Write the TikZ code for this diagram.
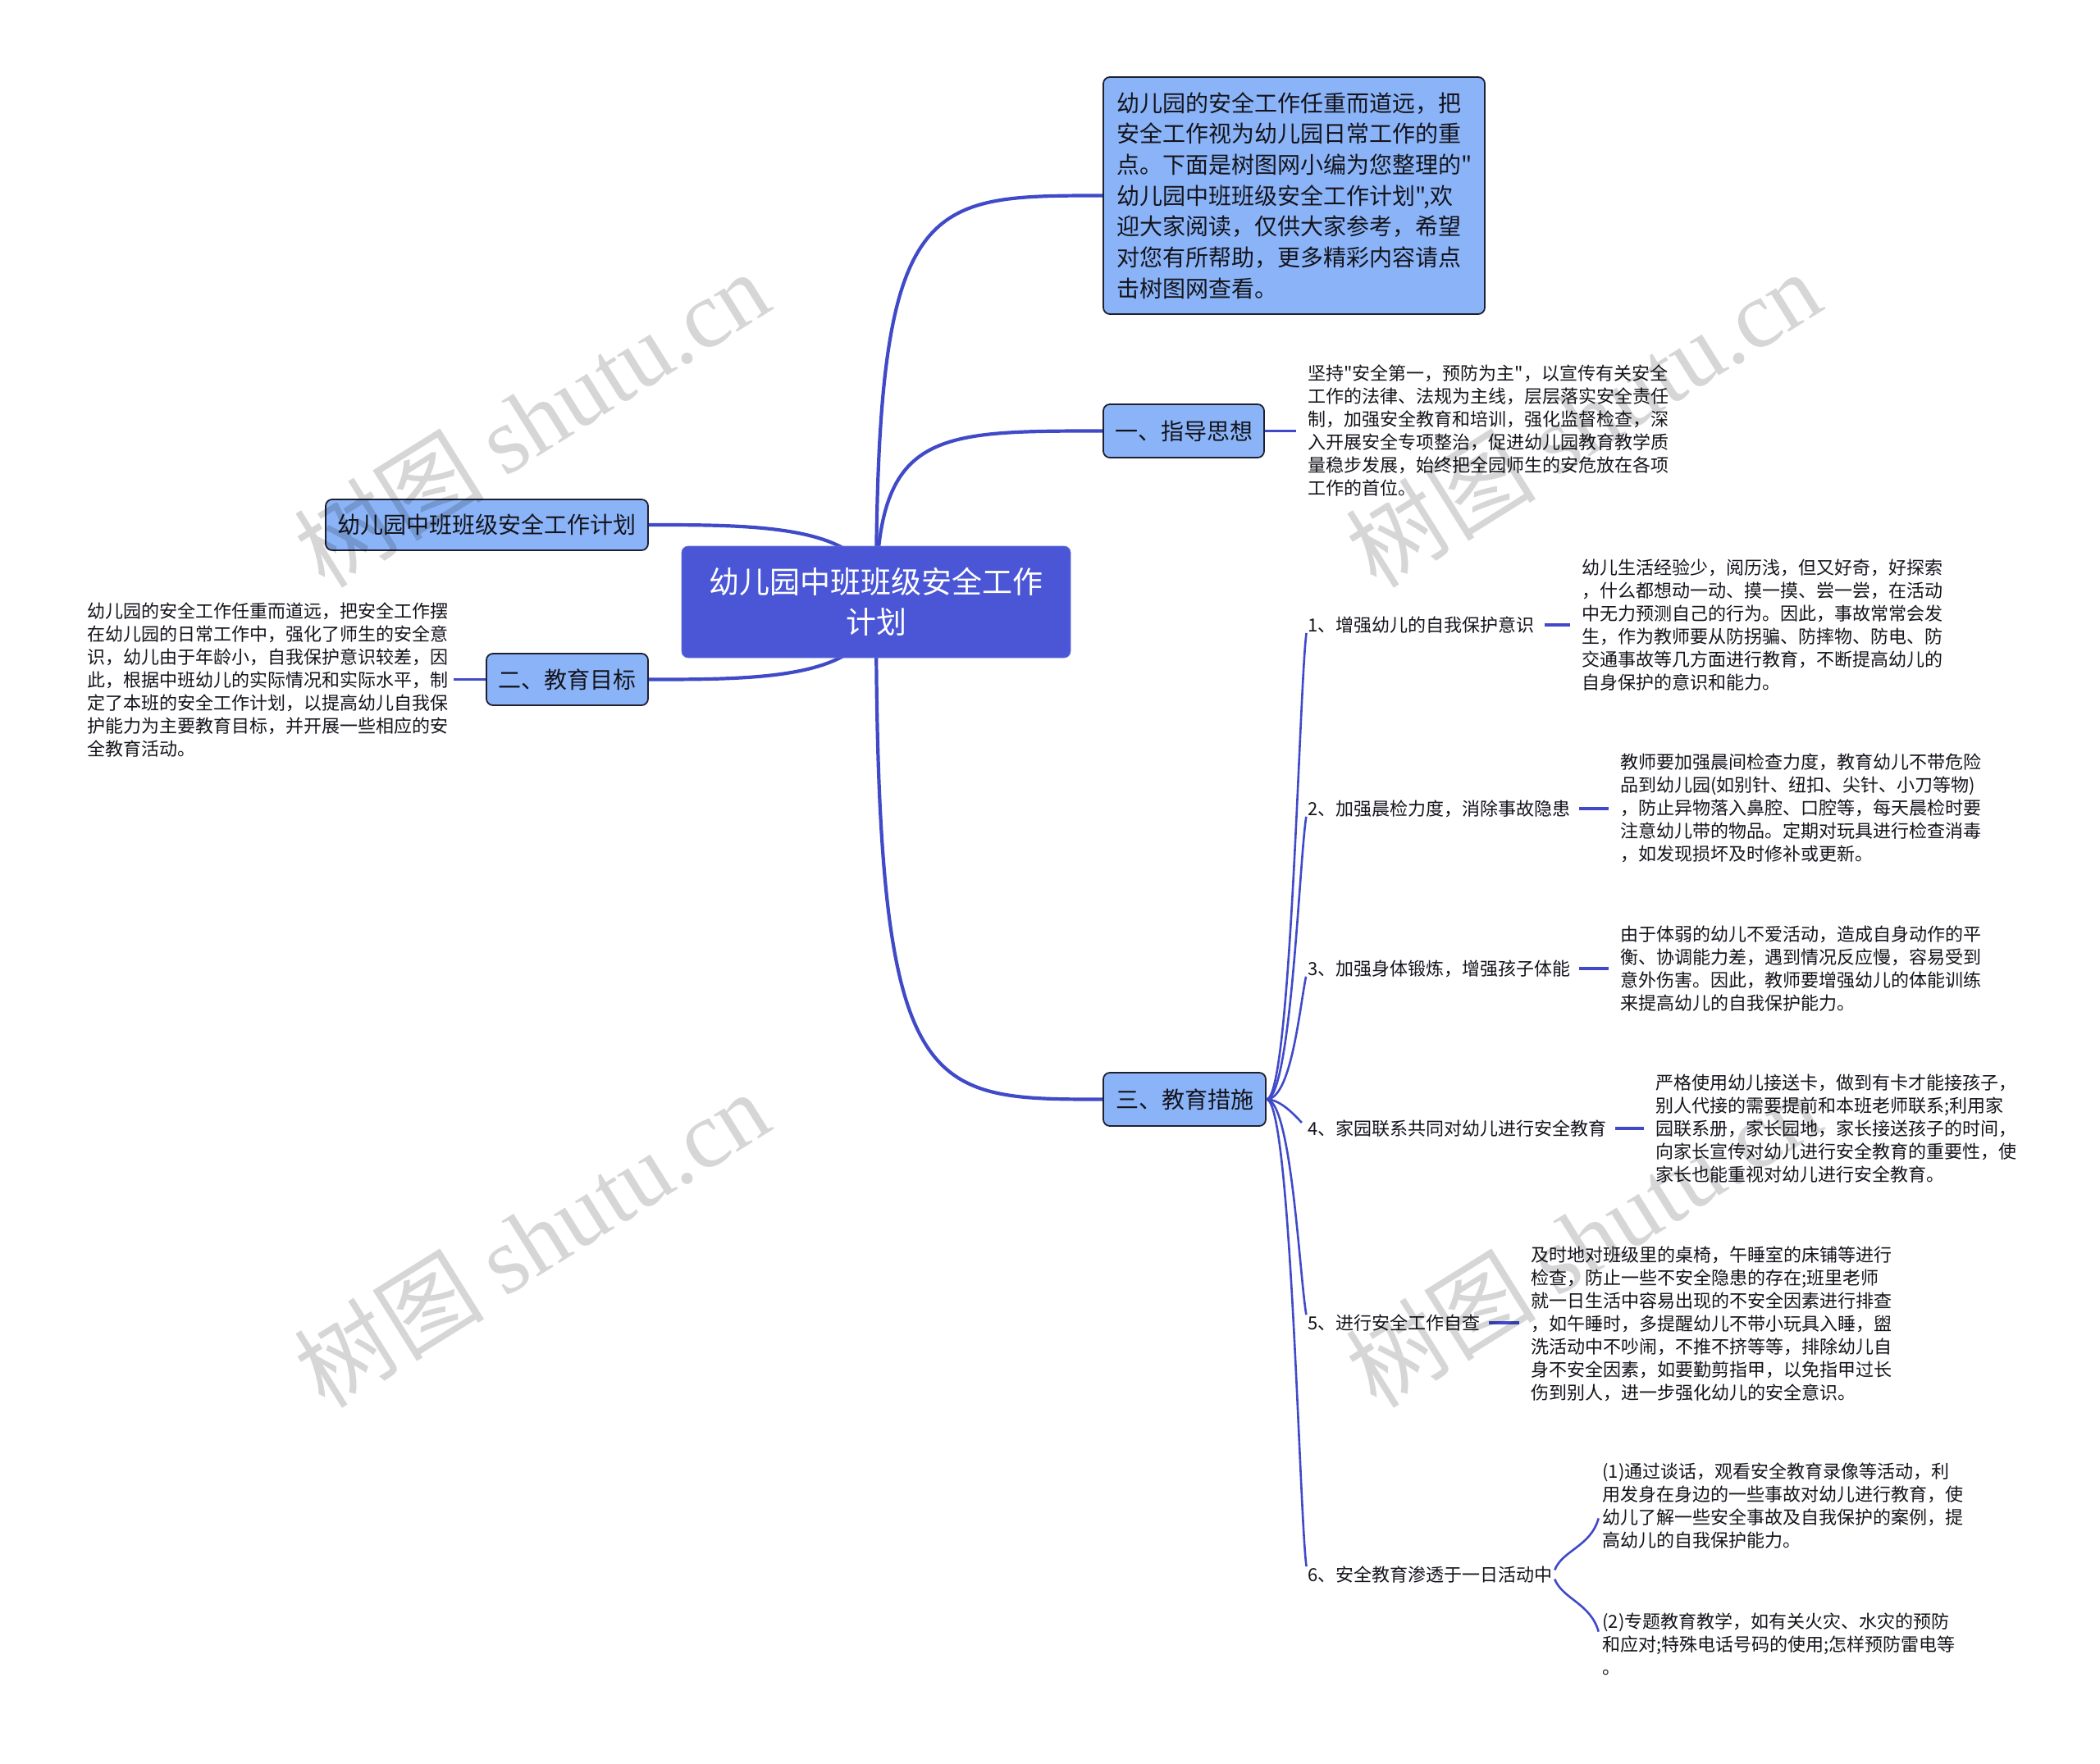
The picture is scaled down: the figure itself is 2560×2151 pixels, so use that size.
\documentclass[tikz,border=0pt]{standalone}
\usepackage{fontspec}
\setmainfont{Noto Sans CJK SC}
\newfontfamily\cjkfont{Noto Sans CJK SC}
\newfontfamily\wmfont{Liberation Serif}
\usetikzlibrary{calc}
\pgfdeclarelayer{background}
\pgfdeclarelayer{foreground}
\pgfsetlayers{background,main,foreground}
\definecolor{linec}{RGB}{64,74,200}
\definecolor{rootc}{RGB}{74,86,214}
\definecolor{nodec}{RGB}{139,180,248}
\definecolor{edgec}{RGB}{30,32,48}
\definecolor{txtc}{RGB}{20,20,28}
\begin{document}
\begin{tikzpicture}[x=0.5pt,y=-0.5pt,
 rootbox/.style={fill=rootc, draw=rootc!85!white, rounded corners=4pt, text=white, align=center,
   font=\cjkfont\fontsize{18.5pt}{24.5pt}\selectfont, inner sep=0pt, minimum width=237pt, minimum height=68pt},
 topicbox/.style={fill=nodec, draw=edgec, line width=0.9pt, rounded corners=4pt, text=txtc,
   font=\cjkfont\fontsize{14pt}{18.85pt}\selectfont, inner sep=0pt},
 leaf/.style={inner sep=0pt, anchor=west, align=left, text=txtc, font=\cjkfont\fontsize{11pt}{14pt}\selectfont},
 mainline/.style={draw=linec, line width=2.1pt},
 subline/.style={draw=linec, line width=1.3pt},
 tieline/.style={draw=linec, line width=1.8pt},
 wm/.style={rotate=32, text=black, text opacity=0.16, inner sep=0pt, font=\fontsize{58pt}{60pt}\selectfont}
]
\useasboundingbox (0,0) rectangle (2560,2151);
\begin{pgfonlayer}{background}
\fill[white] (0,0) rectangle (2560,2151);
\end{pgfonlayer}

% root
\node[rootbox] (c) at (1068,734) {幼儿园中班班级安全工作\\计划};

% top description box
\node[topicbox, minimum width=232.5pt, minimum height=144.5pt, align=left, text width=216pt] (top) at (1577.5,238.5)
 {幼儿园的安全工作任重而道远，把\\安全工作视为幼儿园日常工作的重\\点。下面是树图网小编为您整理的"\\幼儿园中班班级安全工作计划",欢\\迎大家阅读，仅供大家参考，希望\\对您有所帮助，更多精彩内容请点\\击树图网查看。};

% main topics
\node[topicbox, minimum width=98pt, minimum height=32.5pt] (g1) at (1443,525.5) {一、指导思想};
\node[topicbox, minimum width=196.5pt, minimum height=31pt] (l1) at (593.5,640) {幼儿园中班班级安全工作计划};
\node[topicbox, minimum width=98.5pt, minimum height=31.5pt] (g2) at (691.5,828.5) {二、教育目标};
\node[topicbox, minimum width=99pt, minimum height=32.5pt] (g3) at (1444,1340.5) {三、教育措施};

% leaf texts
\node[leaf] (t1) at (1594,525) {坚持"安全第一，预防为主"，以宣传有关安全\\工作的法律、法规为主线，层层落实安全责任\\制，加强安全教育和培训，强化监督检查，深\\入开展安全专项整治，促进幼儿园教育教学质\\量稳步发展，始终把全园师生的安危放在各项\\工作的首位。};
\node[leaf] (t2) at (106,829) {幼儿园的安全工作任重而道远，把安全工作摆\\在幼儿园的日常工作中，强化了师生的安全意\\识，幼儿由于年龄小，自我保护意识较差，因\\此，根据中班幼儿的实际情况和实际水平，制\\定了本班的安全工作计划，以提高幼儿自我保\\护能力为主要教育目标，并开展一些相应的安\\全教育活动。};

\node[leaf] (i1) at (1594,762) {1、增强幼儿的自我保护意识};
\node[leaf] (i2) at (1594,986) {2、加强晨检力度，消除事故隐患};
\node[leaf] (i3) at (1594,1181) {3、加强身体锻炼，增强孩子体能};
\node[leaf] (i4) at (1594,1376) {4、家园联系共同对幼儿进行安全教育};
\node[leaf] (i5) at (1594,1613) {5、进行安全工作自查};
\node[leaf] (i6) at (1594,1920) {6、安全教育渗透于一日活动中};

\node[leaf] (d1) at (1928,762) {幼儿生活经验少，阅历浅，但又好奇，好探索\\，什么都想动一动、摸一摸、尝一尝，在活动\\中无力预测自己的行为。因此，事故常常会发\\生，作为教师要从防拐骗、防摔物、防电、防\\交通事故等几方面进行教育，不断提高幼儿的\\自身保护的意识和能力。};
\node[leaf] (d2) at (1975,985) {教师要加强晨间检查力度，教育幼儿不带危险\\品到幼儿园(如别针、纽扣、尖针、小刀等物)\\，防止异物落入鼻腔、口腔等，每天晨检时要\\注意幼儿带的物品。定期对玩具进行检查消毒\\，如发现损坏及时修补或更新。};
\node[leaf] (d3) at (1975,1181) {由于体弱的幼儿不爱活动，造成自身动作的平\\衡、协调能力差，遇到情况反应慢，容易受到\\意外伤害。因此，教师要增强幼儿的体能训练\\来提高幼儿的自我保护能力。};
\node[leaf] (d4) at (2018,1376) {严格使用幼儿接送卡，做到有卡才能接孩子，\\别人代接的需要提前和本班老师联系;利用家\\园联系册，家长园地，家长接送孩子的时间，\\向家长宣传对幼儿进行安全教育的重要性，使\\家长也能重视对幼儿进行安全教育。};
\node[leaf] (d5) at (1866,1614) {及时地对班级里的桌椅，午睡室的床铺等进行\\检查，防止一些不安全隐患的存在;班里老师\\就一日生活中容易出现的不安全因素进行排查\\，如午睡时，多提醒幼儿不带小玩具入睡，盥\\洗活动中不吵闹，不推不挤等等，排除幼儿自\\身不安全因素，如要勤剪指甲，以免指甲过长\\伤到别人，进一步强化幼儿的安全意识。};
\node[leaf] (d6a) at (1953,1836) {(1)通过谈话，观看安全教育录像等活动，利\\用发身在身边的一些事故对幼儿进行教育，使\\幼儿了解一些安全事故及自我保护的案例，提\\高幼儿的自我保护能力。};
\node[leaf] (d6b) at (1953,2005) {(2)专题教育教学，如有关火灾、水灾的预防\\和应对;特殊电话号码的使用;怎样预防雷电等\\。};

% connectors
\begin{pgfonlayer}{background}
\draw[mainline] (c.center) .. controls (c.center |- top.west) and ($(c.center |- top.west)!0.2!(top.west)$) .. (top.west);
\draw[mainline] (c.center) .. controls (c.center |- g1.west) and ($(c.center |- g1.west)!0.25!(g1.west)$) .. (g1.west);
\draw[mainline] (c.center) .. controls (c.center |- g3.west) and ($(c.center |- g3.west)!0.2!(g3.west)$) .. (g3.west);
\draw[mainline] (c.center) .. controls (c.center |- l1.east) and ($(l1.east)!0.5!(c.center |- l1.east)$) .. (l1.east);
\draw[mainline] (c.center) .. controls (c.center |- g2.east) and ($(g2.east)!0.5!(c.center |- g2.east)$) .. (g2.east);
\end{pgfonlayer}

\draw[tieline, shorten >=7pt] (g1.east) -- (g1.east -| t1.west);
\draw[tieline, shorten >=3pt] (g2.west) -- (g2.west -| t2.east);

\draw[subline, shorten >=5pt] (g3.east) .. controls +(30,0) and +(-10,70) .. (i1.west);
\draw[subline, shorten >=5pt] (g3.east) .. controls +(30,0) and +(-10,60) .. (i2.west);
\draw[subline, shorten >=5pt] (g3.east) .. controls +(30,0) and +(-10,50) .. (i3.west);
\draw[subline, shorten >=5pt] (g3.east) .. controls +(18,0) and +(-14,-14) .. (i4.west);
\draw[subline, shorten >=5pt] (g3.east) .. controls +(30,0) and +(-10,-60) .. (i5.west);
\draw[subline, shorten >=5pt] (g3.east) .. controls +(30,0) and +(-10,-70) .. (i6.west);

\draw[tieline, shorten <=6pt, shorten >=7pt] (i1.east) -- (i1.east -| d1.west);
\draw[tieline, shorten <=5pt, shorten >=7pt] (i2.east) -- (i2.east -| d2.west);
\draw[tieline, shorten <=5pt, shorten >=7pt] (i3.east) -- (i3.east -| d3.west);
\draw[tieline, shorten <=5pt, shorten >=7pt] (i4.east) -- (i4.east -| d4.west);
\draw[tieline, shorten <=5pt, shorten >=7pt] (i5.east) -- (i5.east -| d5.west);

\draw[subline, shorten <=3pt, shorten >=8pt] (i6.east) .. controls +(12,-30) and +(-14,50) .. (d6a.west);
\draw[subline, shorten <=3pt, shorten >=8pt] (i6.east) .. controls +(12,30) and +(-14,-50) .. (d6b.west);

% watermarks
\begin{pgfonlayer}{foreground}
\node[wm] (w1) at (648,510) {树图 {\wmfont shutu.cn}};
\node[wm] (w2) at (1930,510) {树图 {\wmfont shutu.cn}};
\node[wm] (w3) at (648,1510) {树图 {\wmfont shutu.cn}};
\node[wm] (w4) at (1930,1510) {树图 {\wmfont shutu.cn}};
\end{pgfonlayer}
\end{tikzpicture}
\end{document}
